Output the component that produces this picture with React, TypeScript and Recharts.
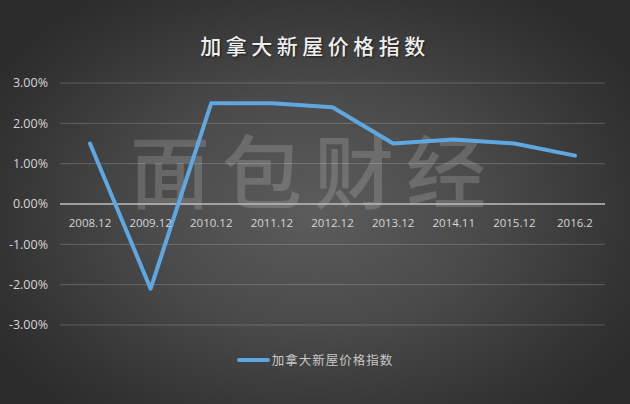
import React from 'react';
import { LineChart, Line, XAxis, YAxis, CartesianGrid, ReferenceLine } from 'recharts';

const categories = ['2008.12', '2009.12', '2010.12', '2011.12', '2012.12', '2013.12', '2014.11', '2015.12', '2016.2'];
const priceIndex = [1.5, -2.1, 2.5, 2.5, 2.4, 1.5, 1.6, 1.5, 1.2];
const yTicks = [-3, -2, -1, 0, 1, 2, 3];
const seriesName = '加拿大新屋价格指数';
const title = '加拿大新屋价格指数';
const watermark = '面包财经';

const data = categories.map((c, i) => ({ name: c, value: priceIndex[i] }));

const FONT = '"Open Sans", "Noto Sans CJK SC", sans-serif';

const XTick = (props: any) => {
  const { x, y, payload } = props;
  return (
    <text x={x} y={y - 106} textAnchor="middle" fill="#d6d6d6" fontSize={11.5} fontFamily={FONT}>
      {payload.value}
    </text>
  );
};

export default function App() {
  return (
    <div style={{ position: 'absolute', left: 0, top: 0, width: 630, height: 404, overflow: 'hidden',
      background: 'radial-gradient(ellipse 60% 65% at 50% 52%, #5c5c5c 0%, #4a4a4a 45%, #333333 85%, #2c2c2c 100%)' }}>
      <div style={{ position: 'absolute', left: 0, top: 30, width: 630, textAlign: 'center', color: '#efefef',
        fontSize: 21, letterSpacing: 4.5, fontFamily: '"Noto Sans CJK SC", sans-serif', fontWeight: 500,
        textShadow: '1px 1px 2px rgba(0,0,0,0.6)' }}>{title}</div>
      <div style={{ position: 'absolute', left: 130, top: 127, textAlign: 'left', color: 'rgba(255,255,255,0.16)',
        fontSize: 80, letterSpacing: 12, lineHeight: '80px', whiteSpace: 'nowrap', fontFamily: '"Noto Sans CJK SC", sans-serif', fontWeight: 500 }}>{watermark}</div>
      <div style={{ position: 'absolute', left: 0, top: 0 }}>
        <LineChart width={630} height={404} data={data} margin={{ top: 83, right: 25, left: 0, bottom: 49 }}>
          <CartesianGrid vertical={false} stroke="rgba(255,255,255,0.2)" strokeWidth={1} />
          <XAxis dataKey="name" axisLine={false} tickLine={false} height={30} tick={<XTick />} interval={0}
            padding={{ left: 30, right: 30 }} />
          <YAxis domain={[-3, 3]} ticks={yTicks} width={60} axisLine={false} tickLine={false}
            tickFormatter={(v: number) => v.toFixed(2) + '%'}
            tick={{ fill: '#d6d6d6', fontSize: 12.5, fontFamily: FONT }} tickMargin={6} />
          <ReferenceLine y={0} stroke="#b8b8b8" strokeWidth={1.5} />
          <Line type="linear" dataKey="value" name={seriesName} stroke="#5ea7e0" strokeWidth={4}
            dot={false} isAnimationActive={false} strokeLinejoin="round" strokeLinecap="round" />
        </LineChart>
      </div>
      <div style={{ position: 'absolute', left: 0, top: 350, width: 630, display: 'flex', justifyContent: 'center',
        alignItems: 'center', fontFamily: '"Noto Sans CJK SC", sans-serif' }}>
        <span style={{ display: 'inline-block', width: 33, height: 4, background: '#5ea7e0', borderRadius: 2, marginRight: 2 }} />
        <span style={{ color: '#c8c8c8', fontSize: 12.5, letterSpacing: 1 }}>{seriesName}</span>
      </div>
    </div>
  );
}
